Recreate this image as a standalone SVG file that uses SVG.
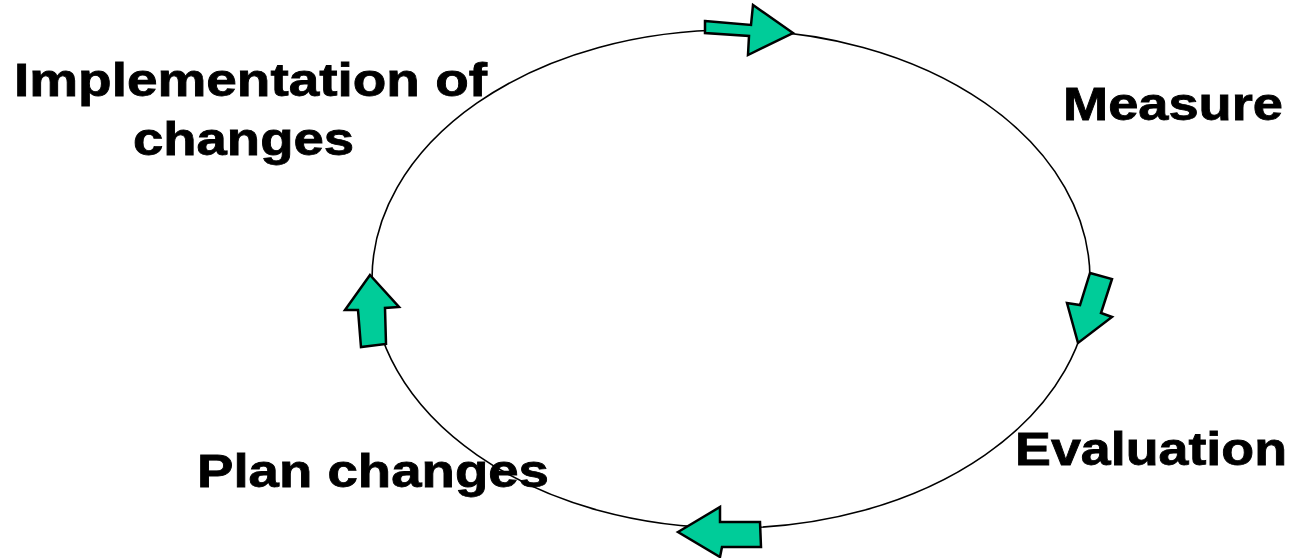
<svg xmlns="http://www.w3.org/2000/svg" width="1294" height="558" viewBox="0 0 1294 558">
<style>
.lbl{font-family:"Liberation Sans",Arial,sans-serif;font-weight:bold;font-size:46px;fill:#000;stroke:#000;stroke-width:0.8}
.arr{fill:#00CC99;stroke:#000;stroke-width:2.5;stroke-linejoin:miter}
.ring{fill:none;stroke:#000;stroke-width:1.6}
</style>
<rect width="1294" height="558" fill="#fff"/>
<g id="cycle">
<ellipse class="ring" cx="731" cy="279" rx="359" ry="249"/>
</g>
<g id="connectors">
<polygon class="arr" points="705,21 751,25 753,5 793,33 748,55 749,36 705,33"/>
<polygon class="arr" points="1090,273 1112,279 1101,313 1112,317 1078,343 1067,303 1080,305"/>
<polygon class="arr" points="678,532 720,507 720,522 760,522 761,547 722,547 720,557"/>
<polygon class="arr" points="370,275 399,307 385,308 386,344 361,347 358,310 345,310"/>
</g>
<g id="node-implementation">
<text class="lbl" x="14" y="96" textLength="473" lengthAdjust="spacingAndGlyphs">Implementation of</text>
<text class="lbl" x="133" y="155" textLength="221" lengthAdjust="spacingAndGlyphs">changes</text>
</g>
<g id="node-measure">
<text class="lbl" x="1063" y="120" textLength="220" lengthAdjust="spacingAndGlyphs">Measure</text>
</g>
<g id="node-evaluation">
<text class="lbl" x="1015" y="465" textLength="272" lengthAdjust="spacingAndGlyphs">Evaluation</text>
</g>
<g id="node-plan">
<text class="lbl" x="197" y="487" textLength="352" lengthAdjust="spacingAndGlyphs">Plan changes</text>
</g>
</svg>
